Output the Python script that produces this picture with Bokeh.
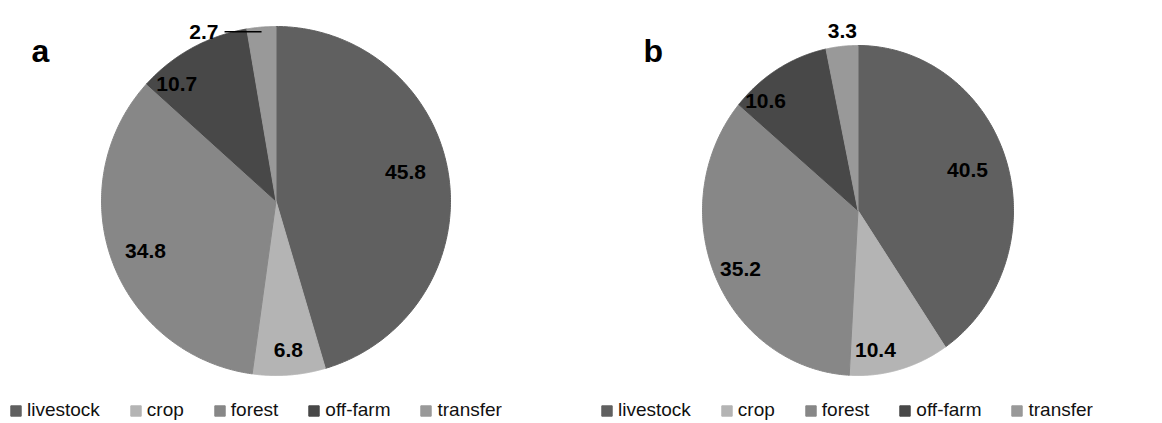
import numpy as np
from bokeh.plotting import figure
from bokeh.models import Range1d, ColumnDataSource, Legend, LegendItem
from bokeh.core.properties import value
from bokeh.embed import file_html
from bokeh.resources import INLINE

# ---------------- data ----------------
categories = ["livestock", "crop", "forest", "off-farm", "transfer"]
values_a = [45.8, 6.8, 34.8, 10.7, 2.7]
values_b = [40.5, 10.4, 35.2, 10.6, 3.3]
panel_titles = ["a", "b"]

# ---------------- styles / layout ----------------
colors = ["#606060", "#b4b4b4", "#878787", "#484848", "#999999"]
W, H = 1162, 423
pie_a = dict(cx=275.5, cy=200.5, rx=174.5, ry=174.5)
pie_b = dict(cx=857.5, cy=210.0, rx=155.5, ry=165.0)
# label placement: angle offset from slice middle (deg), radial fraction
lab_a_dang = [-4.2, -0.5, -0.8, -11.5, 0.0]
lab_a_frac = [0.76, 0.854, 0.80, 0.88, 0.985]
lab_b_dang = [-1.9, 7.9, -1.6, -11.0, 0.7]
lab_b_frac = [0.745, 0.85, 0.834, 0.889, 1.095]
FONT = "Liberation Sans"

p = figure(width=W, height=H, output_backend="svg", toolbar_location=None,
           x_range=Range1d(0, W), y_range=Range1d(H, 0),
           min_border=0, outline_line_color=None)
p.axis.visible = False
p.grid.visible = False
p.background_fill_color = "white"


def wedge_polys(vals, g):
    tot = float(sum(vals))
    xs, ys, mids = [], [], []
    start = 0.0
    for v in vals:
        end = start + v / tot * 360.0
        t = np.radians(np.linspace(start, end, 200))
        x = np.concatenate([[g["cx"]], g["cx"] + g["rx"] * np.sin(t)])
        y = np.concatenate([[g["cy"]], g["cy"] - g["ry"] * np.cos(t)])
        xs.append(list(x)); ys.append(list(y))
        mids.append((start + end) / 2.0)
        start = end
    return xs, ys, mids


def label_pos(mids, dang, frac, g):
    lx, ly = [], []
    for m, d, f in zip(mids, dang, frac):
        a = np.radians(m + d)
        lx.append(g["cx"] + f * g["rx"] * np.sin(a))
        ly.append(g["cy"] - f * g["ry"] * np.cos(a))
    return lx, ly


for k, (vals, g, dang, frac) in enumerate([(values_a, pie_a, lab_a_dang, lab_a_frac),
                                            (values_b, pie_b, lab_b_dang, lab_b_frac)]):
    xs, ys, mids = wedge_polys(vals, g)
    src = ColumnDataSource(dict(xs=xs, ys=ys, color=colors, cat=categories))
    r = p.patches("xs", "ys", source=src, fill_color="color", line_color="color", line_width=1)
    lx, ly = label_pos(mids, dang, frac, g)
    texts = ["%.1f" % v for v in vals]
    if k == 0:
        # leader line for the small transfer slice
        ex, ey = lx[4], ly[4] + 2
        p.segment(x0=[ex], y0=[ey], x1=[ex - 37], y1=[ey], line_color="black", line_width=1.5)
        p.text(x=[ex - 43], y=[ey], text=[texts[4]], text_align="right", text_baseline="alphabetic",
               text_font=value(FONT), text_font_style="bold", text_font_size="21px", text_color="black")
        n = 4
    else:
        n = 5
    p.text(x=lx[:n], y=ly[:n], text=texts[:n], text_align="center", text_baseline="middle",
           text_font=value(FONT), text_font_style="bold", text_font_size="21px", text_color="black")
    items = [LegendItem(label=c, renderers=[r], index=i) for i, c in enumerate(categories)]
    lg = Legend(items=items, orientation="horizontal", location=(9 if k == 0 else 600, 2),
                padding=0, margin=0, spacing=29, label_standoff=5,
                glyph_width=13, glyph_height=13,
                label_text_font=FONT, label_text_font_size="19px", label_text_color="#111111",
                background_fill_alpha=0, border_line_alpha=0)
    p.add_layout(lg)

p.text(x=[31, 643], y=[50, 50], text=panel_titles, text_align="left", text_baseline="alphabetic",
       text_font=value(FONT), text_font_style="bold", text_font_size="32px", text_color="black")

open("out.html", "w").write(file_html(p, INLINE))
